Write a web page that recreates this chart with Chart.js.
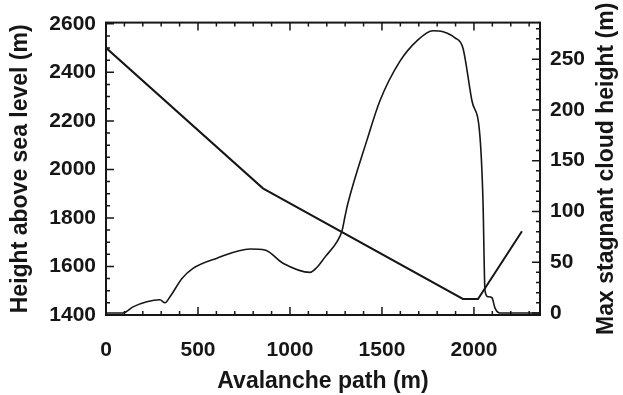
<!DOCTYPE html>
<html>
<head>
<meta charset="utf-8">
<script src="https://cdn.jsdelivr.net/npm/chart.js@4"></script>
<style>
  body { margin: 0; background: #fff; }
  #chart { display: block; }
</style>
</head>
<body>
<canvas id="chart" width="623" height="395"></canvas>
<script>
// terrain profile along the path (left axis)
const terrainPath = [0, 853, 1940, 2022, 2261];
const terrainHeight = [2501, 1922, 1466, 1466, 1745];

// max stagnant cloud height (right axis)
const cloudPath = [0, 92, 147, 222, 293, 321, 348, 413, 473, 603, 783, 864, 962, 1109, 1147,
  1190, 1255, 1283, 1299, 1315, 1418, 1489, 1598, 1690, 1777, 1832, 1897, 1940, 1989, 2033, 2049,
  2060, 2076, 2098, 2114, 2141, 2359];
const cloudHeight = [0, 0, 6, 11, 13, 10, 16, 34, 44, 54, 63, 62, 49, 40, 45,
  55, 70, 81, 95, 108, 170, 209, 248, 268, 278, 277, 271, 261, 209, 173, 111,
  22, 16, 15, 5, 0, 0];

const xTicks = [0, 500, 1000, 1500, 2000];
const leftTicks = [1400, 1600, 1800, 2000, 2200, 2400, 2600];
const rightTicks = [0, 50, 100, 150, 200, 250];
const rightTitle = 'Max stagnant cloud height (m)';

const ink = '#161616';
const tickFont = { family: 'Liberation Sans', size: 21, weight: 'bold' };
const titleFont = { family: 'Liberation Sans', size: 23, weight: 'bold' };

function setTicks(list) {
  return scale => { scale.ticks = list.map(v => ({ value: v })); };
}

// IDL style frame with inward ticks, plus the right title read bottom-up
const framePlugin = {
  id: 'frame',
  afterDraw(chart) {
    const { ctx, chartArea: a, scales } = chart;
    ctx.save();
    ctx.strokeStyle = ink;
    ctx.lineWidth = 2;
    ctx.strokeRect(a.left, a.top, a.right - a.left, a.bottom - a.top);
    ctx.lineWidth = 1.5;
    ctx.beginPath();
    const x = scales.x;
    for (let v = 0; v <= x.max; v += 100) {
      const px = x.getPixelForValue(v);
      const len = v % 500 === 0 ? 8 : 4;
      ctx.moveTo(px, a.bottom); ctx.lineTo(px, a.bottom - len);
      ctx.moveTo(px, a.top); ctx.lineTo(px, a.top + len);
    }
    const yl = scales.y;
    for (let v = 1400; v <= yl.max; v += 50) {
      const py = yl.getPixelForValue(v);
      const len = v % 200 === 0 ? 8 : 4;
      ctx.moveTo(a.left, py); ctx.lineTo(a.left + len, py);
    }
    const yr = scales.y2;
    for (let v = 0; v <= yr.max; v += 10) {
      const py = yr.getPixelForValue(v);
      const len = v % 50 === 0 ? 8 : 4;
      ctx.moveTo(a.right, py); ctx.lineTo(a.right - len, py);
    }
    ctx.stroke();

    ctx.translate(yr.right - 16, (a.top + a.bottom) / 2);
    ctx.rotate(-Math.PI / 2);
    ctx.fillStyle = ink;
    ctx.font = 'bold 23px "Liberation Sans"';
    ctx.textAlign = 'center';
    ctx.textBaseline = 'middle';
    ctx.fillText(rightTitle, 0, 0);
    ctx.restore();
  }
};

new Chart(document.getElementById('chart'), {
  type: 'scatter',
  data: {
    datasets: [{
      label: 'Terrain',
      data: terrainPath.map((p, i) => ({ x: p, y: terrainHeight[i] })),
      yAxisID: 'y',
      showLine: true,
      borderColor: ink,
      borderWidth: 2,
      pointRadius: 0,
    }, {
      label: 'Cloud',
      data: cloudPath.map((p, i) => ({ x: p, y: cloudHeight[i] })),
      yAxisID: 'y2',
      showLine: true,
      borderColor: ink,
      borderWidth: 1.6,
      pointRadius: 0,
      cubicInterpolationMode: 'monotone',
    }]
  },
  options: {
    responsive: false,
    animation: false,
    layout: { padding: { top: 22 } },
    plugins: { legend: { display: false }, tooltip: { enabled: false } },
    scales: {
      x: {
        type: 'linear',
        min: 0, max: 2359,
        afterBuildTicks: setTicks(xTicks),
        afterFit: s => { s.height = 80; },
        grid: { display: false, drawTicks: false },
        border: { display: false },
        ticks: { color: ink, font: tickFont, padding: 23, maxRotation: 0, callback: v => String(v) },
        title: { display: true, text: 'Avalanche path (m)', color: ink, font: titleFont, padding: { top: 0, bottom: 0 } },
      },
      y: {
        position: 'left',
        min: 1400, max: 2605,
        afterBuildTicks: setTicks(leftTicks),
        afterFit: s => { s.width = 106; },
        grid: { display: false, drawTicks: false },
        border: { display: false },
        ticks: { color: ink, font: tickFont, padding: 10, callback: v => String(v) },
        title: { display: true, text: 'Height above sea level (m)', color: ink, font: titleFont, padding: { top: 7, bottom: 0 } },
      },
      y2: {
        position: 'right',
        min: -2, max: 286,
        afterBuildTicks: setTicks(rightTicks),
        afterFit: s => { s.width = 83; },
        grid: { display: false, drawTicks: false },
        border: { display: false },
        ticks: { color: ink, font: tickFont, padding: 10, callback: v => String(v) },
        title: { display: false },
      }
    }
  },
  plugins: [framePlugin]
});
</script>
</body>
</html>
